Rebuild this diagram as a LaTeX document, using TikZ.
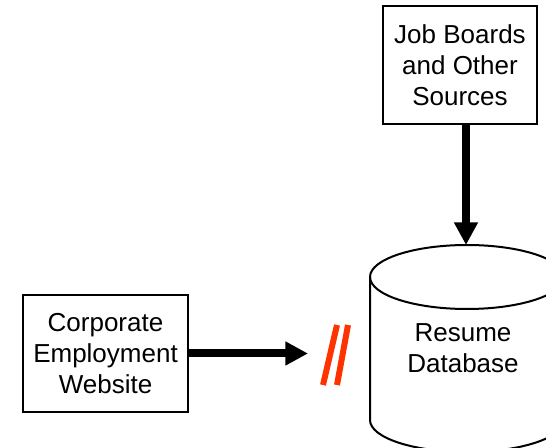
\documentclass[tikz,border=0pt]{standalone}
\usepackage{fontspec}
\setmainfont{Liberation Sans}
\usetikzlibrary{arrows.meta}
\definecolor{slashred}{RGB}{255,51,0}
\tikzset{
  boxtext/.style={align=center, inner sep=0pt, font=\fontsize{19.5}{23.25}\selectfont},
  srcbox/.style={boxtext, draw, line width=1.5pt},
  flow/.style={line width=6pt, -{Triangle[length=17pt,width=17pt]}},
}
\begin{document}
\begin{tikzpicture}[x=0.75pt, y=-0.75pt]
    \useasboundingbox (0,0) rectangle (546,448);
    \clip (0,0) rectangle (546,448);

    % Sources
    \node[srcbox, minimum width=115.5pt, minimum height=88.5pt] (jobs) at (460,65) {Job Boards\\and Other\\Sources};
    \node[srcbox, minimum width=123.75pt, minimum height=87.75pt] (corp) at (105.5,353.5) {Corporate\\Employment\\Website};

    % Database cylinder
    \draw[line width=1.5pt] (370,277) -- (370,420) arc[start angle=180, end angle=0, x radius=97, y radius=32] -- (564,277);
    \draw[line width=1.5pt] (467,277) ellipse[x radius=97, y radius=32];
    \node[boxtext] (db) at (463,348) {Resume\\Database};
    \coordinate (dbtop) at (466,245);
    \coordinate (cut) at (308,353.5);

    % Flows
    \draw[flow] (dbtop |- jobs.south) -- (dbtop);
    \draw[flow] (corp.east) -- (cut);

    % Broken link
    \draw[slashred, line width=4.5pt] (337,325) -- (323,385);
    \draw[slashred, line width=4.5pt] (348,325) -- (337,385);
\end{tikzpicture}
\end{document}
